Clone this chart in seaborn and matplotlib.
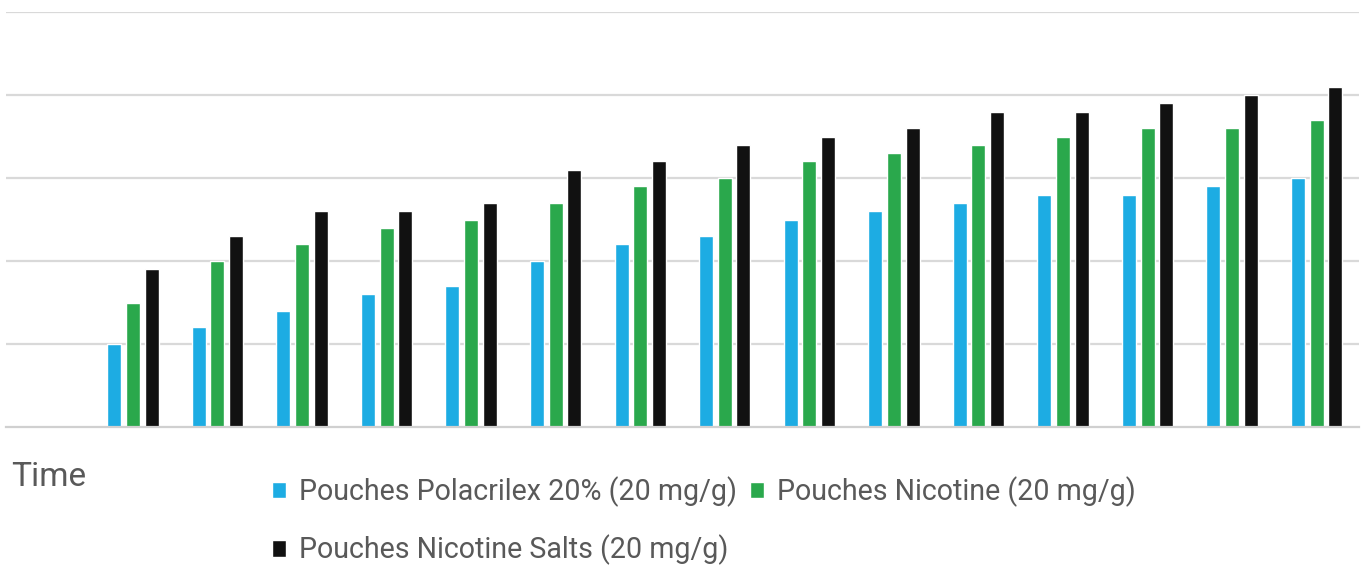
import pandas as pd
import matplotlib
matplotlib.use('Agg')
import matplotlib.pyplot as plt
import seaborn as sns

# Dados (unidades = linhas de grade)
time_points = list(range(16))
series_names = ['Pouches Polacrilex 20% (20 mg/g)',
                'Pouches Nicotine (20 mg/g)',
                'Pouches Nicotine Salts (20 mg/g)']
polacrilex = [0, 1.0, 1.2, 1.4, 1.6, 1.7, 2.0, 2.2, 2.3, 2.5, 2.6, 2.7, 2.8, 2.8, 2.9, 3.0]
nicotine = [0, 1.5, 2.0, 2.2, 2.4, 2.5, 2.7, 2.9, 3.0, 3.2, 3.3, 3.4, 3.5, 3.6, 3.6, 3.7]
salts = [0, 1.9, 2.3, 2.6, 2.6, 2.7, 3.1, 3.2, 3.4, 3.5, 3.6, 3.8, 3.8, 3.9, 4.0, 4.1]
colors = ['#1DACE3', '#2AA84C', '#111111']

df = pd.DataFrame({
    'Time': time_points * 3,
    'Serie': [series_names[0]] * 16 + [series_names[1]] * 16 + [series_names[2]] * 16,
    'Valor': polacrilex + nicotine + salts,
})

sns.set_style('white')
plt.rcParams['font.family'] = ['Roboto', 'DejaVu Sans']

fig = plt.figure(figsize=(13.66, 5.67), dpi=100)
ax = fig.add_axes([6 / 1366, 1 - 427 / 567, 1353 / 1366, 415 / 567])

sns.barplot(data=df, x='Time', y='Valor', hue='Serie', palette=colors,
            width=0.663, gap=0.25, ax=ax, saturation=1)

ax.set_ylim(0, 5)
ax.set_xlim(-0.5, 15.5)
ax.set_yticks([1, 2, 3, 4, 5])
ax.yaxis.grid(True, color='#D9D9D9', linewidth=1.6)
ax.set_axisbelow(True)
ax.set_xticks([])
ax.set_yticklabels([])
ax.tick_params(left=False, bottom=False)
for s in ['top', 'right', 'left']:
    ax.spines[s].set_visible(False)
ax.spines['bottom'].set_color('#D0D0D0')
ax.spines['bottom'].set_linewidth(1.6)
ax.set_xlabel('')
ax.set_ylabel('')

# legenda em linhas: azul, verde / preto
handles, labels = ax.get_legend_handles_labels()
ax.get_legend().remove()
order = [0, 2, 1]
fig.legend([handles[i] for i in order], [labels[i] for i in order],
           loc='upper left', bbox_to_anchor=(272 / 1366, 1 - 476 / 567),
           ncol=2, frameon=False, fontsize=20.6, handlelength=0.5, handleheight=0.5,
           handletextpad=0.45, columnspacing=0.45, labelspacing=0.98, labelcolor='#595959',
           borderaxespad=0, borderpad=0)

fig.text(11 / 1366, 1 - 477 / 567, 'Time', fontsize=24, color='#595959', va='center', ha='left')

plt.savefig('out.png', dpi=100)
plt.close()
